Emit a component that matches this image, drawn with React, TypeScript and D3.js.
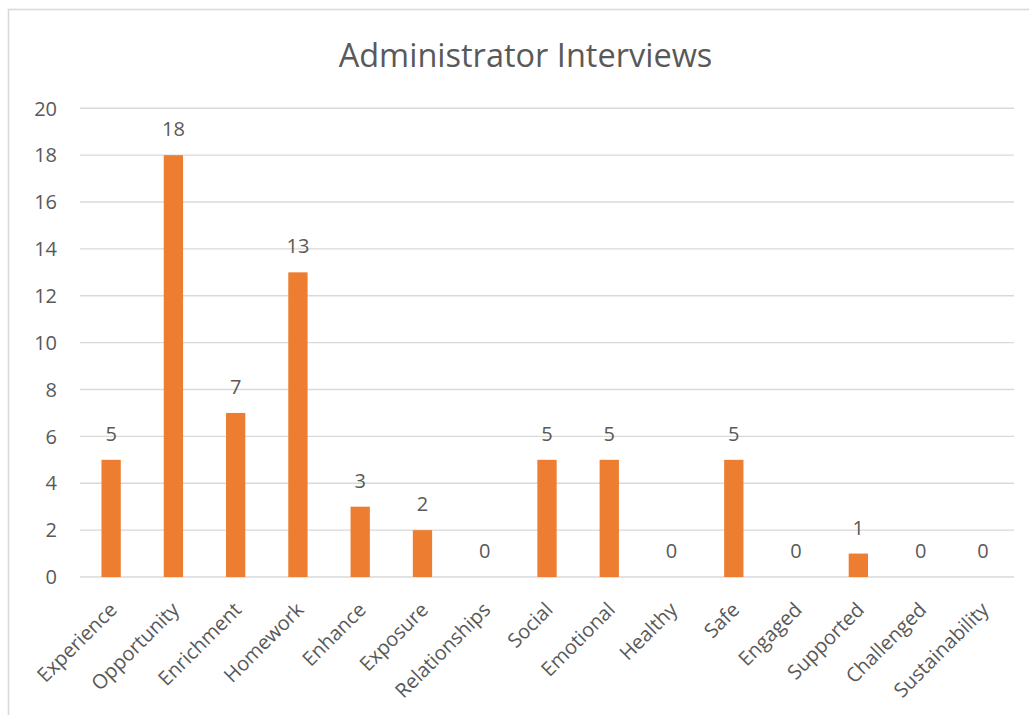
import React from "react";
import * as d3 from "d3";

const categories = [
  "Experience", "Opportunity", "Enrichment", "Homework", "Enhance", "Exposure",
  "Relationships", "Social", "Emotional", "Healthy", "Safe", "Engaged",
  "Supported", "Challenged", "Sustainability",
];
const values = [5, 18, 7, 13, 3, 2, 0, 5, 5, 0, 5, 0, 1, 0, 0];
const yTicks = [0, 2, 4, 6, 8, 10, 12, 14, 16, 18, 20];
const title = "Administrator Interviews";

const W = 1029;
const H = 715;
const left = 80;
const right = 1014;
const top = 108.3;
const bottom = 577;
const textColor = "#595959";
const font = "'Open Sans', sans-serif";

export default function App() {
  const x = d3.scaleBand<string>().domain(categories).range([left, right]).paddingInner(0.69).paddingOuter(0.345);
  const y = d3.scaleLinear().domain([0, 20]).range([bottom, top]);
  const bw = x.bandwidth();
  return (
    <svg width={W} height={H} style={{ position: "fixed", left: 0, top: 0, background: "#fff" }} fontFamily={font}>
      <rect x={8.5} y={9.5} width={1100} height={800} fill="#fff" stroke="#d9d9d9" strokeWidth={1.6} />
      <text x={525.5} y={66.7} textAnchor="middle" fontSize={32.5} fill={textColor}>{title}</text>
      {yTicks.map((t) => (
        <g key={t}>
          <line x1={left} x2={right} y1={y(t)} y2={y(t)} stroke="#d9d9d9" strokeWidth={1.4} />
          <text x={57} y={y(t)} dy="0.36em" textAnchor="end" fontSize={20} fill={textColor}>{t}</text>
        </g>
      ))}
      {categories.map((c, i) => {
        const cx = (x(c) as number) + bw / 2;
        return (
          <g key={c}>
            {values[i] > 0 && (
              <rect x={x(c)} y={y(values[i])} width={bw} height={y(0) - y(values[i])} fill="#ED7D31" />
            )}
            <text x={cx} y={y(values[i]) - 19} textAnchor="middle" fontSize={20} fill={textColor}>{values[i]}</text>
            <text
              transform={`translate(${cx + 7},${611}) rotate(-45)`}
              textAnchor="end"
              fontSize={20}
              fill={textColor}
            >{c}</text>
          </g>
        );
      })}
    </svg>
  );
}
